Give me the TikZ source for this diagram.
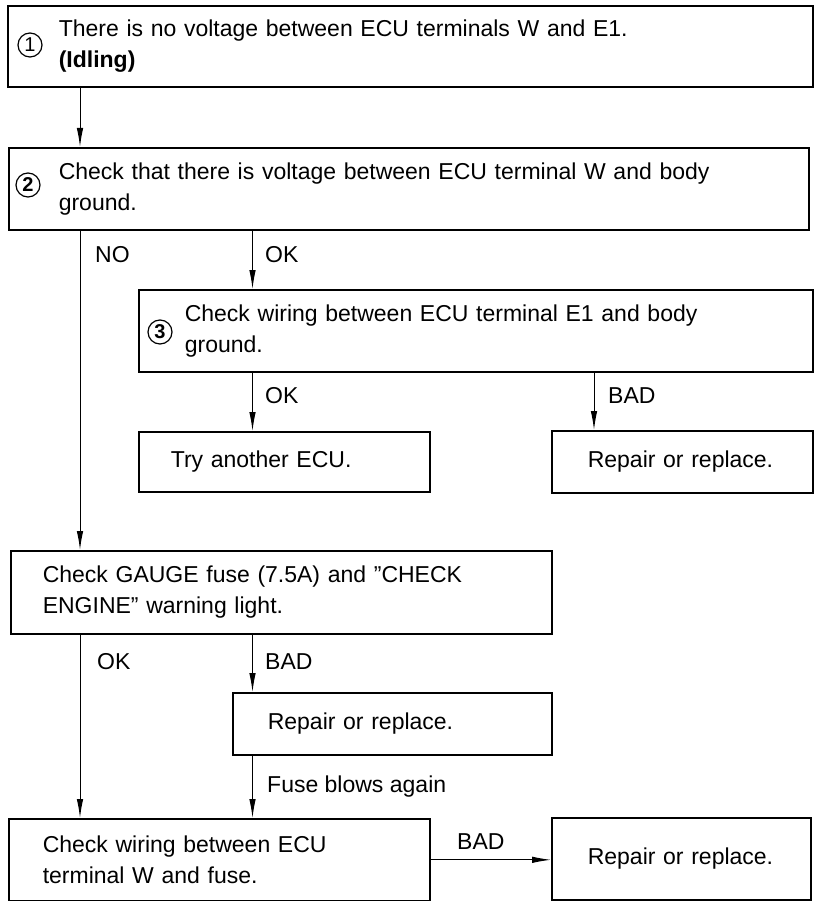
\documentclass[tikz,border=0pt]{standalone}
\usepackage{fontspec}
\setmainfont{Liberation Sans}
\usetikzlibrary{arrows.meta}

\tikzset{
  stepbox/.style={draw, rectangle, line width=1.6pt, anchor=north west, align=left,
    inner ysep=0pt, font=\fontsize{23}{31}\selectfont},
  flow/.style={line width=1pt, -{Latex[length=19pt,width=6.5pt]}},
  lbl/.style={anchor=base west, inner sep=0pt, font=\fontsize{23}{31}\selectfont},
  numc/.style={draw, circle, line width=1.2pt, minimum size=24pt, inner sep=0pt,
    font=\fontsize{20}{20}\selectfont}
}

\begin{document}
\begin{tikzpicture}[x=1pt, y=-1pt]
\useasboundingbox (0,0) rectangle (814,901);

% columns of the vertical connectors
\coordinate (colA) at (80,0);
\coordinate (colB) at (252.5,0);
\coordinate (colC) at (594,0);

% step boxes
\node[stepbox, minimum height=81pt, text width=703pt, inner xsep=51pt] (b1) at (7,5)
  {There is no voltage between ECU terminals W and E1.\\\textbf{(Idling)}};
\node[stepbox, minimum height=82pt, text width=700pt, inner xsep=50pt] (b2) at (8,147)
  {Check that there is voltage between ECU terminal W and body\\ground.};
\node[stepbox, minimum height=82pt, text width=582pt, inner xsep=46pt] (b3) at (138,289)
  {Check wiring between ECU terminal E1 and body\\ground.};
\node[stepbox, minimum height=60pt, text width=227pt, inner xsep=32pt] (try) at (138,431)
  {Try another ECU.};
\node[stepbox, minimum height=62pt, text width=189pt, inner xsep=36pt] (r1) at (551,430)
  {Repair or replace.};
\node[stepbox, minimum height=83pt, text width=477pt, inner xsep=32pt] (gauge) at (10,550)
  {Check GAUGE fuse (7.5A) and ''CHECK\\ENGINE'' warning light.};
\node[stepbox, minimum height=62pt, text width=249pt, inner xsep=35pt] (r2) at (232,692)
  {Repair or replace.};
\node[stepbox, minimum height=82pt, text width=353pt, inner xsep=34pt] (wb) at (8,818)
  {Check wiring between ECU\\terminal W and fuse.};
\node[stepbox, minimum height=82pt, text width=187pt, inner xsep=36pt] (r3) at (551,817)
  {Repair or replace.};

% step numbers
\node[numc] (c1) at (30,45) {1};
\node[numc] (c2) at (28,185) {\bfseries 2};
\node[numc] (c3) at (160,332) {\bfseries 3};

% connectors
\draw[flow] (b1.south -| colA) -- (b2.north -| colA);
\draw[flow] (b2.south -| colB) -- (b3.north -| colB);
\draw[flow] (b2.south -| colA) -- (gauge.north -| colA);
\draw[flow] (b3.south -| colB) -- (try.north -| colB);
\draw[flow] (b3.south -| colC) -- (r1.north -| colC);
\draw[flow] (gauge.south -| colA) -- (wb.north -| colA);
\draw[flow] (gauge.south -| colB) -- (r2.north -| colB);
\draw[flow] (r2.south -| colB) -- (wb.north -| colB);
\draw[flow] (wb.east) -- (r3.west |- wb.east);

% branch labels
\node[lbl] (lno) at (95,262) {NO};
\node[lbl] (lok1) at (265,262) {OK};
\node[lbl] (lok2) at (265,403) {OK};
\node[lbl] (lbad1) at (608,403) {BAD};
\node[lbl] (lok3) at (97,669) {OK};
\node[lbl] (lbad2) at (265,669) {BAD};
\node[lbl] (lfuse) at (267,792) {Fuse blows again};
\node[lbl] (lbad3) at (457,849) {BAD};
\end{tikzpicture}
\end{document}
